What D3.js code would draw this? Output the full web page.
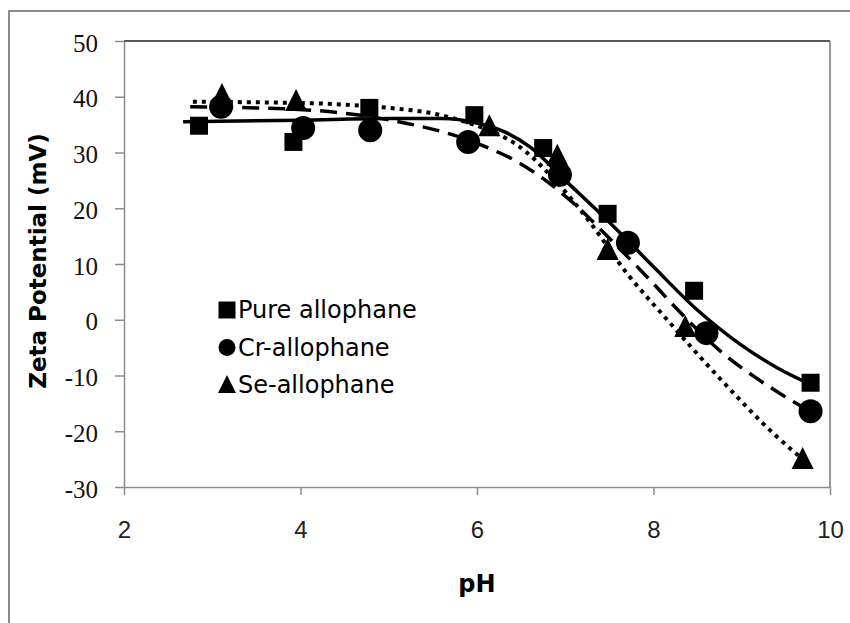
<!DOCTYPE html>
<html>
<head>
<meta charset="utf-8">
<script src="https://cdn.jsdelivr.net/npm/d3@7"></script>
<style>
  body { margin: 0; background: #fff; }
  svg { display: block; }
</style>
</head>
<body>
<svg width="850" height="623"></svg>
<script>
// measured points
var pureX = [2.85, 3.92, 4.78, 5.97, 6.75, 7.48, 8.46, 9.78];
var pureY = [34.8, 31.9, 38.0, 36.7, 30.8, 19.0, 5.2, -11.3];
var crX = [3.10, 4.03, 4.79, 5.90, 6.94, 7.71, 8.60, 9.78];
var crY = [38.2, 34.4, 34.0, 31.9, 26.0, 13.8, -2.4, -16.4];
var seX = [3.11, 3.95, 6.14, 6.91, 7.48, 8.36, 9.69];
var seY = [40.5, 39.4, 34.9, 29.6, 12.7, -1.1, -24.8];

// fitted curves
var pureFitX = [2.67, 4.0, 5.0, 5.6, 6.0, 6.3, 6.6, 7.0, 7.5, 8.0, 8.5, 9.0, 9.4, 9.78];
var pureFitY = [35.5, 35.8, 36.1, 36.1, 35.3, 33.8, 31.0, 25.0, 17.5, 9.5, 1.7, -4.6, -8.6, -11.6];
var crFitX = [2.75, 3.5, 4.2, 4.8, 5.3, 5.7, 6.1, 6.45, 6.75, 7.1, 7.5, 7.95, 8.25, 8.8, 9.15, 9.45, 9.78];
var crFitY = [38.2, 38.0, 37.5, 36.4, 34.9, 33.3, 31.0, 28.4, 25.3, 20.8, 14.6, 7.3, 2.2, -6.2, -10.3, -13.4, -16.5];
var seFitX = [2.78, 3.5, 4.2, 5.0, 5.5, 5.85, 6.1, 6.45, 6.88, 7.28, 7.7, 8.11, 8.75, 9.4, 9.69];
var seFitY = [39.1, 39.0, 38.8, 38.0, 37.0, 35.6, 34.2, 31.4, 25.1, 17.5, 8.3, 0.8, -10.5, -21.0, -25.0];

var seriesNames = ["Pure allophane", "Cr-allophane", "Se-allophane"];
var xTicks = [2, 4, 6, 8, 10];
var yTicks = [-30, -20, -10, 0, 10, 20, 30, 40, 50];

var svg = d3.select("svg");

// outer chart frame (right/bottom edges fall outside the picture)
svg.append("rect")
   .attr("x", 9).attr("y", 11)
   .attr("width", 900).attr("height", 700)
   .attr("fill", "none").attr("stroke", "#8c8c8c").attr("stroke-width", 2);

var x = d3.scaleLinear().domain([2, 10]).range([124, 830]);
var y = d3.scaleLinear().domain([-30, 50]).range([487, 41]);

// plot area edges
svg.append("line")
   .attr("x1", x(2)).attr("x2", x(10)).attr("y1", y(50)).attr("y2", y(50))
   .attr("stroke", "#222").attr("stroke-width", 1.5);
svg.append("line")
   .attr("x1", x(10)).attr("x2", x(10)).attr("y1", y(50)).attr("y2", y(-30))
   .attr("stroke", "#777").attr("stroke-width", 1.5);

var xAxis = svg.append("g")
   .attr("transform", "translate(0," + y(-30) + ")")
   .call(d3.axisBottom(x).tickValues(xTicks).tickSize(8).tickSizeOuter(0)
           .tickFormat(function(d) { return String(d); }))
   .attr("font-family", "Liberation Sans, Arial, sans-serif")
   .attr("font-size", 24);
xAxis.select(".domain").attr("stroke", "#8c8c8c").attr("stroke-width", 1.5);
xAxis.selectAll(".tick line").attr("stroke", "#8c8c8c").attr("stroke-width", 1.5);
xAxis.selectAll(".tick text")
   .attr("y", 51).attr("dy", null)
   .attr("fill", "#222");

var yAxis = svg.append("g")
   .attr("transform", "translate(" + x(2) + ",0)")
   .call(d3.axisLeft(y).tickValues(yTicks).tickSize(9).tickSizeOuter(0)
           .tickFormat(function(d) { return String(d); }))
   .attr("font-family", "Liberation Serif, Times New Roman, serif")
   .attr("font-size", 25);
yAxis.select(".domain").attr("stroke", "#8c8c8c").attr("stroke-width", 1.5);
yAxis.selectAll(".tick line").attr("stroke", "#8c8c8c").attr("stroke-width", 1.5);
yAxis.selectAll(".tick text")
   .attr("x", -26).attr("dy", 10)
   .attr("fill", "#111");

// axis titles
svg.append("text")
   .attr("transform", "translate(46," + 261 + ") rotate(-90)")
   .attr("text-anchor", "middle")
   .style("font", "bold 23px 'DejaVu Sans', sans-serif")
   .text("Zeta Potential (mV)");

svg.append("text")
   .attr("x", (x(2) + x(10)) / 2).attr("y", 592)
   .attr("text-anchor", "middle")
   .style("font", "bold 24px 'DejaVu Sans', sans-serif")
   .text("pH");

// fitted lines
var line = d3.line()
   .x(function(d) { return x(d[0]); })
   .y(function(d) { return y(d[1]); })
   .curve(d3.curveMonotoneX);

var fits = [
  { xs: pureFitX, ys: pureFitY, dash: null, w: 3.5 },
  { xs: crFitX, ys: crFitY, dash: "17,9", w: 3.5 },
  { xs: seFitX, ys: seFitY, dash: "4,5", w: 4 }
];
fits.forEach(function(f) {
  svg.append("path")
     .attr("d", line(d3.zip(f.xs, f.ys)))
     .attr("fill", "none")
     .attr("stroke", "#000")
     .attr("stroke-width", f.w)
     .attr("stroke-dasharray", f.dash);
});

// markers
var triangleBox = {
  draw: function(context, size) {
    var s = Math.sqrt(size);
    context.moveTo(0, -s / 2);
    context.lineTo(s / 2, s / 2);
    context.lineTo(-s / 2, s / 2);
    context.closePath();
  }
};

var markers = [
  { xs: pureX, ys: pureY, type: d3.symbolSquare, size: 18 * 18 },
  { xs: crX, ys: crY, type: d3.symbolCircle, size: Math.PI * 12 * 12 },
  { xs: seX, ys: seY, type: triangleBox, size: 22 * 22 }
];
markers.forEach(function(m) {
  svg.append("g").selectAll("path")
     .data(d3.zip(m.xs, m.ys))
     .enter().append("path")
     .attr("transform", function(d) { return "translate(" + x(d[0]) + "," + y(d[1]) + ")"; })
     .attr("d", d3.symbol().type(m.type).size(m.size))
     .attr("fill", "#000");
});

// legend
var legendTypes = [
  { type: d3.symbolSquare, size: 17 * 17 },
  { type: d3.symbolCircle, size: Math.PI * 8.5 * 8.5 },
  { type: triangleBox, size: 18 * 18 }
];
var legend = svg.append("g").attr("transform", "translate(227,310)");
seriesNames.forEach(function(name, i) {
  var row = legend.append("g").attr("transform", "translate(0," + (i * 37.5) + ")");
  row.append("path")
     .attr("d", d3.symbol().type(legendTypes[i].type).size(legendTypes[i].size))
     .attr("transform", i === 2 ? "translate(0,-1)" : null)
     .attr("fill", "#000");
  row.append("text")
     .attr("x", 11).attr("y", 8)
     .style("font", "24px 'DejaVu Sans', sans-serif")
     .attr("fill", "#000")
     .text(name);
});
</script>
</body>
</html>
